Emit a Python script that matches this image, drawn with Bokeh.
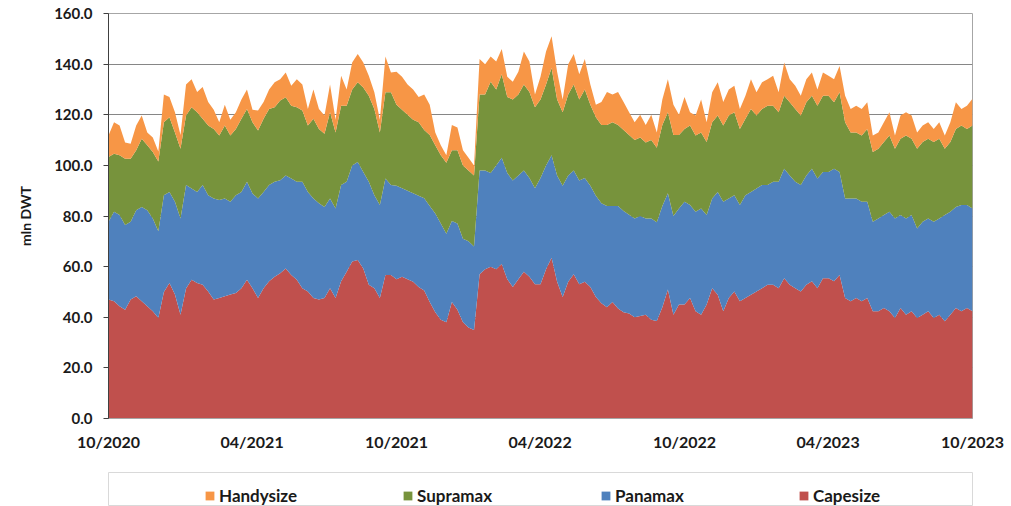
import pandas as pd
from bokeh.plotting import figure
from bokeh.layouts import column
from bokeh.models import (Range1d, FixedTicker, NumeralTickFormatter, DatetimeTickFormatter,
                          Legend, LegendItem, ColumnDataSource)
from bokeh.embed import file_html
from bokeh.resources import INLINE

# ---------------- data (weekly readings, mln DWT) ----------------
tick_labels = ["10/2020", "04/2021", "10/2021", "04/2022", "10/2022", "04/2023", "10/2023"]
y_ticks = [0, 20, 40, 60, 80, 100, 120, 140, 160]

capesize = [
    47.0, 46.3, 44.3, 43.0, 47.0, 48.3, 46.3, 44.3, 42.4, 39.7, 50.0, 53.5, 49.0, 41.0, 51.4, 54.8, 53.5, 52.8, 50.2, 47.0, 47.6, 48.3, 49.0, 49.6, 51.5, 54.8,
    51.5, 47.6, 51.5, 54.2, 56.0, 57.4, 59.3, 56.7, 54.8, 51.5, 50.2, 47.6, 47.0, 47.6, 51.5, 47.6, 54.2, 58.0, 62.0, 62.6, 59.3, 52.8, 51.5, 47.6, 56.7, 56.7,
    55.0, 56.0, 55.0, 54.0, 52.0, 50.6, 46.0, 42.0, 39.0, 38.0, 46.0, 43.0, 38.0, 36.0, 35.0, 57.0, 59.0, 60.0, 59.0, 61.0, 55.0, 52.0, 55.0, 58.0, 56.0, 53.0,
    53.0, 59.0, 63.5, 54.0, 48.0, 54.0, 57.0, 53.0, 54.0, 52.0, 48.0, 45.5, 44.0, 46.0, 43.5, 42.0, 41.5, 40.0, 40.5, 41.0, 39.0, 38.5, 44.0, 51.0, 41.0, 45.0,
    45.0, 47.6, 42.4, 41.0, 45.0, 51.5, 48.9, 42.4, 47.6, 50.2, 46.3, 47.6, 48.9, 50.2, 51.5, 52.8, 52.8, 51.5, 55.4, 52.8, 51.5, 50.2, 52.8, 54.2, 51.5, 55.4,
    55.4, 54.2, 56.7, 47.6, 46.3, 47.6, 46.3, 47.6, 42.4, 42.4, 43.7, 42.4, 39.7, 43.7, 41.0, 42.4, 39.7, 41.0, 42.4, 39.7, 41.0, 38.4, 41.0, 43.7, 42.4, 43.7, 42.4,
]
panamax = [
    30.7, 35.4, 36.1, 33.4, 30.7, 34.0, 37.3, 38.0, 36.6, 34.3, 38.2, 36.0, 36.6, 38.0, 40.8, 36.1, 36.0, 39.4, 38.0, 39.9, 38.7, 38.6, 36.6, 38.6, 38.0, 38.7,
    37.4, 39.3, 38.0, 38.0, 37.5, 36.7, 36.7, 38.1, 38.7, 42.0, 39.3, 39.3, 38.0, 36.0, 35.4, 35.4, 38.0, 35.5, 38.0, 38.7, 38.1, 40.7, 36.7, 36.7, 38.1, 35.5,
    37.0, 35.0, 35.0, 35.0, 36.0, 36.4, 38.0, 39.0, 38.0, 35.0, 32.0, 34.0, 33.0, 34.0, 33.0, 41.0, 39.0, 37.0, 41.0, 42.0, 42.0, 42.0, 41.0, 40.0, 39.0, 38.0,
    42.0, 41.0, 40.5, 42.0, 44.0, 42.0, 41.0, 41.0, 41.0, 40.0, 40.0, 39.5, 40.0, 38.0, 40.5, 40.0, 39.0, 39.0, 39.5, 38.0, 40.0, 39.0, 40.0, 38.0, 39.0, 38.0,
    40.6, 36.7, 39.3, 42.0, 35.4, 35.4, 40.6, 43.2, 39.3, 38.0, 38.0, 40.6, 40.6, 40.7, 40.7, 39.4, 40.7, 42.0, 43.3, 43.2, 42.0, 42.0, 43.2, 44.5, 43.3, 42.0,
    42.0, 44.5, 40.7, 39.3, 40.6, 39.3, 39.3, 38.0, 35.3, 36.6, 36.7, 39.3, 39.3, 36.7, 38.0, 38.0, 35.4, 36.7, 36.6, 38.0, 38.0, 42.0, 40.7, 39.9, 41.9, 40.6, 40.6,
]
supramax = [
    25.6, 22.9, 23.6, 26.2, 24.9, 23.7, 26.9, 25.7, 26.3, 27.5, 28.8, 29.5, 27.4, 27.6, 27.5, 32.1, 31.5, 26.2, 27.6, 27.5, 25.5, 28.9, 26.2, 26.2, 28.9, 28.8,
    28.1, 26.9, 28.9, 30.1, 29.5, 31.5, 30.9, 28.8, 29.5, 28.2, 26.3, 31.5, 29.4, 28.9, 34.1, 30.0, 31.4, 30.1, 30.0, 31.5, 33.4, 34.0, 34.1, 28.7, 34.1, 36.7,
    32.0, 31.0, 30.0, 29.0, 29.0, 27.0, 28.0, 27.0, 27.0, 28.0, 28.0, 29.0, 29.0, 28.0, 28.0, 30.0, 30.0, 36.0, 30.0, 33.0, 30.0, 32.0, 32.0, 34.0, 34.0, 32.0,
    31.0, 32.0, 34.5, 30.0, 29.0, 32.0, 34.0, 32.0, 35.0, 32.0, 31.0, 31.0, 32.0, 33.0, 32.0, 32.0, 31.5, 31.0, 31.0, 30.0, 31.0, 29.5, 32.0, 32.0, 32.0, 29.0,
    28.8, 31.5, 30.1, 30.0, 28.8, 30.1, 30.2, 30.2, 32.8, 32.8, 30.1, 30.2, 32.8, 28.8, 30.1, 31.4, 30.1, 27.5, 28.8, 28.9, 28.8, 27.5, 28.9, 28.8, 28.8, 30.1,
    30.1, 26.2, 31.5, 30.1, 26.1, 26.1, 26.2, 28.8, 27.6, 27.6, 28.8, 30.1, 27.6, 30.1, 32.8, 30.1, 31.5, 31.5, 31.5, 31.5, 31.5, 26.2, 27.5, 30.8, 31.5, 30.1, 32.8,
]
handysize = [
    8.5, 12.4, 11.8, 6.4, 5.9, 9.8, 9.2, 5.0, 5.7, 4.0, 11.0, 8.0, 8.0, 5.4, 12.3, 11.0, 8.0, 12.6, 9.2, 7.6, 5.2, 8.2, 6.2, 6.6, 7.6, 7.7,
    5.0, 7.9, 6.6, 7.7, 9.8, 8.4, 9.8, 7.9, 11.0, 10.3, 6.5, 11.6, 7.9, 7.2, 11.0, 5.0, 11.8, 6.4, 10.6, 11.2, 9.8, 7.9, 6.6, 5.0, 14.1, 7.8,
    13.0, 13.0, 12.0, 12.0, 10.0, 14.0, 12.0, 5.0, 4.0, 3.0, 10.0, 9.0, 6.0, 5.0, 4.0, 14.0, 12.0, 10.0, 11.0, 10.0, 8.0, 7.0, 9.0, 13.0, 12.0, 5.0,
    9.0, 13.0, 12.5, 11.0, 5.0, 12.0, 12.0, 10.0, 12.0, 8.0, 5.0, 9.0, 13.0, 11.0, 13.0, 11.0, 9.0, 7.0, 9.0, 7.0, 10.0, 6.0, 10.0, 13.0, 12.0, 8.0,
    12.6, 5.2, 7.9, 13.0, 7.8, 11.9, 13.1, 9.2, 10.3, 10.5, 7.9, 9.1, 11.7, 9.2, 10.5, 10.4, 11.8, 7.9, 13.1, 9.1, 9.2, 7.8, 9.1, 9.2, 6.4, 9.2,
    7.9, 9.1, 10.4, 10.5, 9.3, 10.6, 10.5, 10.5, 6.5, 6.4, 7.8, 9.2, 5.2, 9.2, 9.2, 9.2, 6.4, 6.6, 6.5, 5.2, 6.5, 5.2, 7.8, 10.5, 6.5, 9.2, 10.5,
]

series = ["Capesize", "Panamax", "Supramax", "Handysize"]          # stacking order, bottom -> top
colors = ["#C0504D", "#4F81BD", "#77933C", "#F79646"]

# ---------------- build ----------------
tick_dates = [pd.Timestamp(int(s[3:]), int(s[:2]), 1) for s in tick_labels]
tick_ms = [t.value // 10**6 for t in tick_dates]
dates = pd.date_range(tick_dates[0], tick_dates[-1], periods=len(capesize))

src = ColumnDataSource(dict(date=dates, Capesize=capesize, Panamax=panamax,
                            Supramax=supramax, Handysize=handysize))

FONT = "Lato"
TXT = "#1a1a1a"

p = figure(width=1008, height=472, x_axis_type="datetime",
           x_range=Range1d(tick_dates[0], tick_dates[-1]), y_range=Range1d(0, 160),
           output_backend="svg", toolbar_location=None,
           min_border_left=108, min_border_right=36, min_border_top=13, min_border_bottom=54,
           background_fill_color="white", border_fill_color="white")

renderers = p.varea_stack(stackers=series, x="date", color=colors, source=src)

# grid / outline
p.xgrid.grid_line_color = None
p.ygrid.grid_line_color = "#868686"
p.ygrid.grid_line_width = 1
p.outline_line_color = "#A6A6A6"
p.outline_line_width = 1

# y axis
p.yaxis.ticker = FixedTicker(ticks=y_ticks)
p.yaxis.formatter = NumeralTickFormatter(format="0.0")
p.yaxis.axis_label = "mln DWT"
p.yaxis.axis_label_text_font = FONT
p.yaxis.axis_label_text_font_style = "bold"
p.yaxis.axis_label_text_font_size = "14px"
p.yaxis.axis_label_text_color = TXT
p.yaxis.axis_label_standoff = 17
p.yaxis.major_label_text_font = FONT
p.yaxis.major_label_text_font_style = "bold"
p.yaxis.major_label_text_font_size = "15px"
p.yaxis.major_label_text_color = TXT
p.yaxis.major_label_standoff = 11
p.yaxis.major_tick_out = 5
p.yaxis.major_tick_in = 0
p.yaxis.minor_tick_line_color = None
p.yaxis.axis_line_color = "#404040"
p.yaxis.major_tick_line_color = "#404040"

# x axis
p.xaxis.ticker = FixedTicker(ticks=tick_ms)
fmt = "%m/%Y"
p.xaxis.formatter = DatetimeTickFormatter(days=fmt, months=fmt, years=fmt, hours=fmt,
                                          hourmin=fmt, minutes=fmt, minsec=fmt, seconds=fmt,
                                          milliseconds=fmt, microseconds=fmt)
p.xaxis.major_label_text_font = FONT
p.xaxis.major_label_text_font_style = "bold"
p.xaxis.major_label_text_font_size = "16px"
p.xaxis.major_label_text_color = TXT
p.xaxis.major_label_standoff = 13
p.xaxis.major_tick_out = 0
p.xaxis.major_tick_in = 0
p.xaxis.minor_tick_line_color = None
p.xaxis.axis_line_color = "#A6A6A6"

# ---------------- legend strip (its frame outline is the legend box) ----------------
pl = figure(width=1008, height=34, x_axis_type="datetime",
            x_range=p.x_range, y_range=Range1d(-2, -1),
            x_axis_location=None, y_axis_location=None,
            output_backend="svg", toolbar_location=None,
            min_border_left=107, min_border_right=36, min_border_top=0, min_border_bottom=0,
            background_fill_color="white", border_fill_color="white")
pl.xgrid.grid_line_color = None
pl.ygrid.grid_line_color = None
pl.outline_line_color = "#D9D9D9"
legend_renderers = pl.varea_stack(stackers=series, x="date", color=colors, source=src)

items = [LegendItem(label=name, renderers=[r]) for name, r in zip(series, legend_renderers)][::-1]
legend = Legend(items=items, orientation="horizontal", location=(96, 0),
                glyph_width=11, glyph_height=11, label_standoff=4,
                label_width=84, spacing=99, padding=4, margin=0,
                border_line_color=None, background_fill_alpha=0,
                label_text_font=FONT, label_text_font_style="bold",
                label_text_font_size="17px", label_text_color=TXT)
pl.add_layout(legend)

layout = column(p, pl, spacing=0)
open("out.html", "w").write(file_html(layout, INLINE))
